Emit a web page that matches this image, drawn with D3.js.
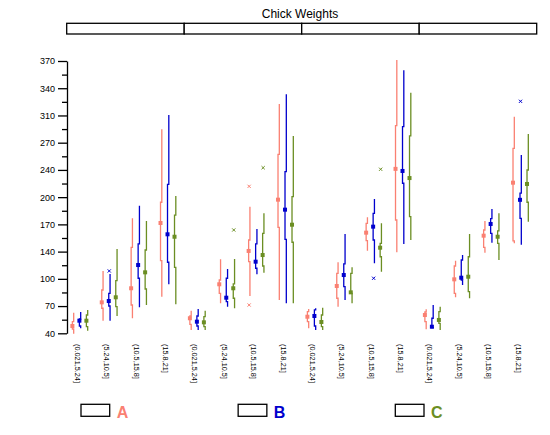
<!DOCTYPE html>
<html><head><meta charset="utf-8">
<script src="https://cdn.jsdelivr.net/npm/d3@7"></script>
<style>body{margin:0;background:#fff} svg{display:block} text{font-family:"Liberation Sans",Arial,sans-serif}</style>
</head><body><svg id="c" width="550" height="435"></svg>
<script>
const panels = ["1","2","3","4"];
const categories = ["(0.021,5.24]","(5.24,10.5]","(10.5,15.8]","(15.8,21]"];
const groups = ["A","B","C"];
const colors = ["#FA8072","#0000CD","#6B8E23"];
const yTickValues = [37,70.5,104,137.5,171,204.5,238,271.5,305,338.5,372];
const yTickLabels = ["40","70","100","140","170","200","240","270","310","340","370"];

// 16 values each: panel 1 (cat 1..4), panel 2, panel 3, panel 4
const minA = [36.5,52.5,55.5,82, 41.1,73.9,82.9,78, 43.2,69.7,138.6,136.7, 41.9,81.3,136.2,147.7];
const q1A  = [42.3,67.8,71.8,126.3, 48.1,86.2,125.1,167.4, 51.3,80.1,150.9,176.4, 51.3,86.2,142.8,150.6];
const medA = [46,75.1,92.4,172.7, 55.5,97.3,138.3,201.4, 57.4,95.2,160.8,239.3, 59.5,103.4,157.1,222.3];
const q3A  = [51.3,90.3,142.8,198.2, 58.3,102.6,151.8,257.2, 63.6,110.8,172.3,292.4, 63.2,119.8,164.1,264.6];
const maxA = [62.3,113.7,178.5,288, 64.8,128,192.8,319.1, 66.9,124.4,179.7,373.2, 66.5,126.3,175.2,303.5];

const minB = [43.2,52.5,69,97.3, 41.1,69.7,109.6,73.9, 41.1,78,123.1,146.9, 43.2,96.4,148.5,146];
const q1B  = [46,70.6,104.7,124.4, 46,75.9,117,152.6, 46,94.3,151.8,221.6, 44,102.6,160,178.5];
const medB = [52.5,76.7,121,158.8, 51.3,80.8,125.1,189.1, 58.3,108.7,168.2,236.7, 45.1,105.4,171.5,201.2];
const q3B  = [54.6,86.2,146.9,220.3, 58.3,104.7,146.9,235.8, 65.7,122.3,184.6,291.2, 55.5,127.2,178,209.5];
const maxB = [63.2,110,194,305.6, 66.9,116.1,165.3,331, 67.8,159.2,202.2,360.6, 71.8,133.3,189.9,256.4];

const minC = [40.2,58.3,71.8,72.7, 41.1,67.8,111.6,73.9, 41.1,73.9,112.8,151.8, 41.1,80.1,127.2,174.3];
const q1C  = [45.1,69.7,91.5,118.2, 45.1,80.1,119.8,149, 45.1,86.2,131.2,180.5, 49.3,88.2,147.7,198.2];
const medC = [52.5,81.3,112,155.8, 50.5,92.4,133.3,170.6, 50.9,87.4,142.3,228, 53.4,106.6,155.8,220.7];
const q3C  = [59.5,101.7,139.5,182.5, 57.4,97.7,160,205.1, 59.5,110.8,147.7,279.8, 63.6,131.2,162.9,237.9];
const maxC = [65.7,140.7,175.2,205.9, 64.8,128.4,184.6,279.8, 68.5,118.2,172.3,333, 69.7,159.2,184.6,282.2];

// outliers: [panel index, category index, value]
const outliersA = [[1,2,71.8],[1,2,217.8]];
const outliersB = [[0,1,113.7],[2,2,104.7],[3,3,322.4]];
const outliersC = [[1,1,164.1],[1,2,240.7],[2,2,238.8]];

const stats = [
  {min:minA,q1:q1A,med:medA,q3:q3A,max:maxA,out:outliersA},
  {min:minB,q1:q1B,med:medB,q3:q3B,max:maxB,out:outliersB},
  {min:minC,q1:q1C,med:medC,q3:q3C,max:maxC,out:outliersC}
];

const svg = d3.select("#c");
const y = d3.scaleLinear().domain([37,372]).range([333.3,61]);
const xPanel = d3.scaleBand().domain(panels).range([66.7,536.7]);
const xCat = d3.scaleBand().domain(categories).range([0, xPanel.bandwidth()]);
const xGroup = d3.scalePoint().domain(groups).range([-7,7]);
const shift = -1.5;
function cx(pi, ci, g){ return xPanel(panels[pi]) + xCat(categories[ci]) + xCat.bandwidth()/2 + shift + xGroup(g); }

// title
svg.append("text").attr("x",300).attr("y",18).attr("text-anchor","middle")
  .attr("font-size","12px").attr("fill","#000").text("Chick Weights");

// strips
svg.append("g").selectAll("rect").data(panels).join("rect")
  .attr("x",d=>xPanel(d)).attr("y",23.3).attr("width",xPanel.bandwidth()).attr("height",10.7)
  .attr("fill","#fff").attr("stroke","#000").attr("stroke-width",1.3);

// y axis
const ax = svg.append("g").attr("transform","translate(67,0)")
  .call(d3.axisLeft(y).tickValues(yTickValues).tickFormat((d,i)=>yTickLabels[i]).tickSize(9).tickSizeOuter(0).tickPadding(3));
ax.selectAll("path,line").attr("stroke","#000").attr("stroke-width",1.3);
ax.selectAll("text").attr("font-size","9px").attr("fill","#000").attr("font-family","'Liberation Sans',Arial,sans-serif");
const minors = d3.pairs(yTickValues).map(p=>(p[0]+p[1])/2);
const axm = svg.append("g").attr("transform","translate(67,0)")
  .call(d3.axisLeft(y).tickValues(minors).tickFormat("").tickSize(5).tickSizeOuter(0));
axm.select(".domain").remove();
axm.selectAll("line").attr("stroke","#000").attr("stroke-width",1.3);

// boxes
const gMarks = svg.append("g");
groups.forEach((g,gi)=>{
  const s = stats[gi];
  const col = colors[gi];
  const items = d3.range(16).map(i=>({pi:Math.floor(i/4), ci:i%4, i}));
  gMarks.append("g").selectAll("path").data(items).join("path")
    .attr("d",d=>{
      const x0 = cx(d.pi,d.ci,g);
      const bx = x0 - 0.5, wx = x0 + 0.8;
      return `M${wx},${y(s.max[d.i])}V${y(s.q3[d.i])}H${bx}V${y(s.q1[d.i])}H${wx}V${y(s.min[d.i])}`;
    })
    .attr("fill","none").attr("stroke",col).attr("stroke-width",1.3);
  gMarks.append("g").selectAll("rect").data(items).join("rect")
    .attr("x",d=>cx(d.pi,d.ci,g)-0.5-2).attr("y",d=>y(s.med[d.i])-2)
    .attr("width",4).attr("height",4).attr("fill",col);
  gMarks.append("g").selectAll("path").data(s.out).join("path")
    .attr("d",d=>{
      const x0 = cx(d[0],d[1],g), y0 = y(d[2]), r=1.6;
      return `M${x0-r},${y0-r}L${x0+r},${y0+r}M${x0-r},${y0+r}L${x0+r},${y0-r}`;
    })
    .attr("fill","none").attr("stroke",col).attr("stroke-width",1);
});

// category labels
const labs = [];
panels.forEach((p,pi)=>categories.forEach((c,ci)=>labs.push({pi,ci,c})));
svg.append("g").selectAll("text").data(labs).join("text")
  .attr("transform",d=>`translate(${cx(d.pi,d.ci,"B")-5},344) rotate(90)`)
  .attr("font-size","7.3px").attr("fill","#000").text(d=>d.c);

// legend
const xLeg = d3.scalePoint().domain(groups).range([81,395.3]);
const leg = svg.append("g");
leg.selectAll("rect").data(groups).join("rect")
  .attr("x",d=>xLeg(d)).attr("y",404.3).attr("width",28.7).attr("height",12)
  .attr("fill","none").attr("stroke","#000").attr("stroke-width",1.3);
leg.selectAll("text").data(groups).join("text")
  .attr("x",d=>xLeg(d)+35.7).attr("y",418.3).attr("font-size","16px").attr("font-weight","bold")
  .attr("fill",(d,i)=>colors[i]).text(d=>d);
</script></body></html>
